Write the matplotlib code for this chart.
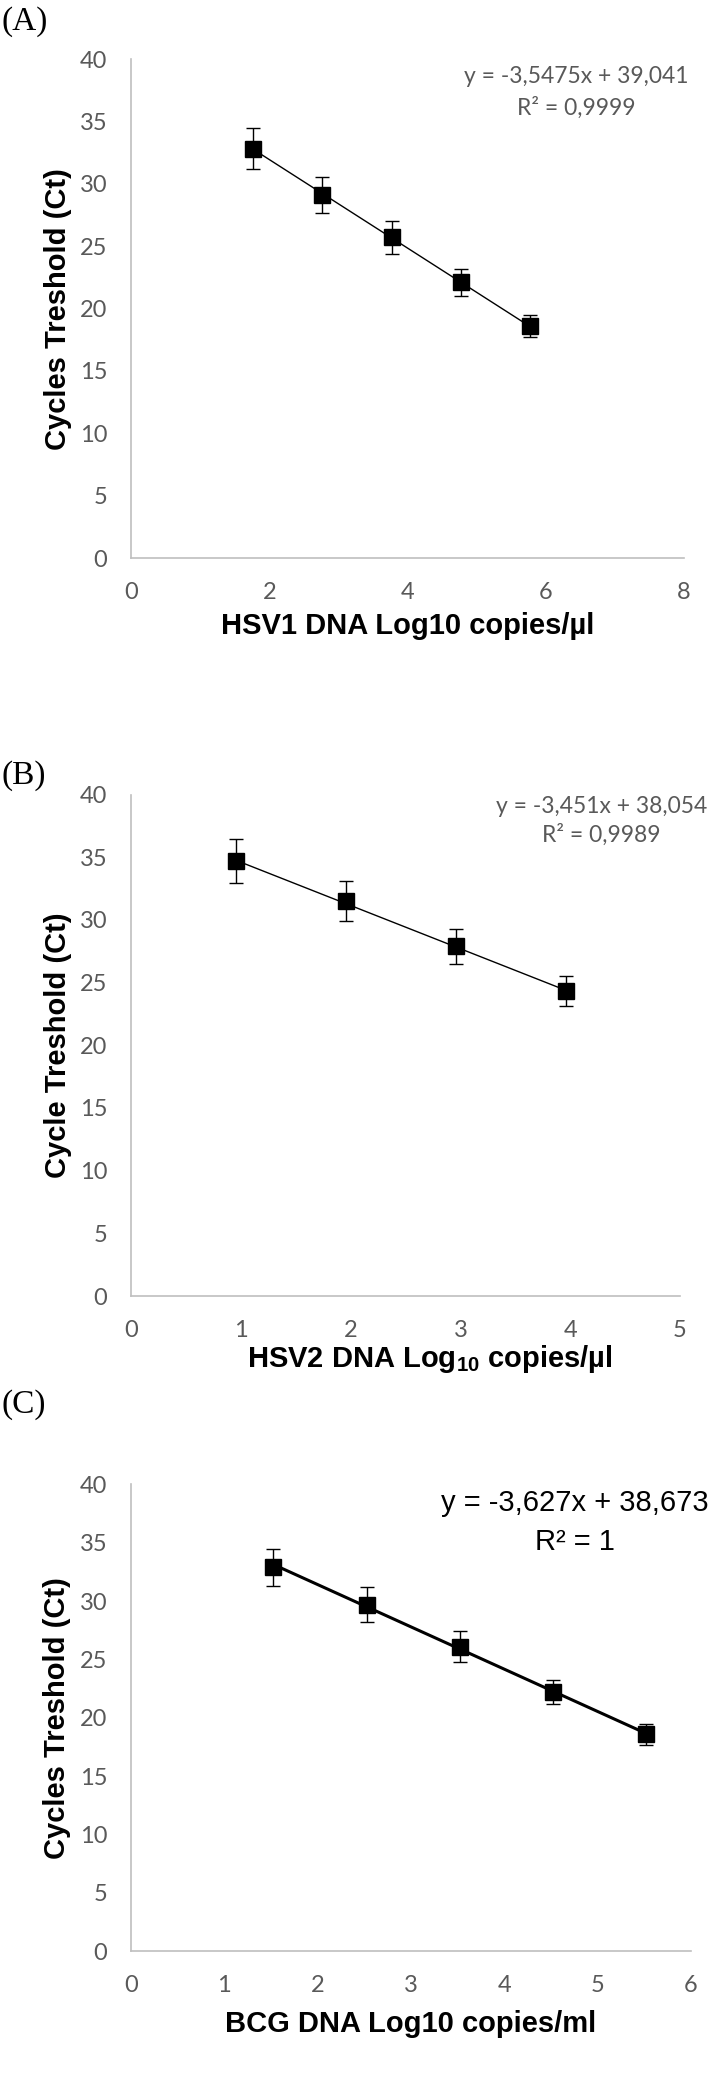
import matplotlib.pyplot as plt
import numpy as np

plt.rcParams["mathtext.fontset"] = "custom"
plt.rcParams["mathtext.rm"] = "Liberation Sans"
plt.rcParams["mathtext.bf"] = "Liberation Sans:bold"

# Panel A - HSV1
hsv1_x = [1.77, 2.77, 3.77, 4.77, 5.77]
hsv1_ct = [32.8, 29.1, 25.7, 22.1, 18.6]
hsv1_err = [1.65, 1.45, 1.3, 1.1, 0.9]
hsv1_fit = (-3.5475, 39.041)

# Panel B - HSV2
hsv2_x = [0.96, 1.96, 2.96, 3.96]
hsv2_ct = [34.7, 31.5, 27.9, 24.3]
hsv2_err = [1.75, 1.6, 1.4, 1.2]
hsv2_fit = (-3.451, 38.054)

# Panel C - BCG
bcg_x = [1.52, 2.53, 3.53, 4.52, 5.52]
bcg_ct = [32.9, 29.7, 26.1, 22.2, 18.6]
bcg_err = [1.6, 1.5, 1.3, 1.05, 0.9]
bcg_fit = (-3.627, 38.673)

tick_font = "Lato"
label_font = "Liberation Sans"
gray_txt = "#595959"
spine_col = "#bfbfbf"

fig = plt.figure(figsize=(7.09, 20.8), dpi=100)


def make_panel(rect, x, y, err, fit, xmax, ylabel, xlabel, xlab_pos, eq_lines, eq_pos, eq_style, fit_lw):
    ax = fig.add_axes(rect)
    # trendline over the data range
    xs = np.array([x[0], x[-1]])
    ax.plot(xs, fit[0] * xs + fit[1], color="black", lw=fit_lw, zorder=2)
    ax.errorbar(x, y, yerr=err, fmt="s", color="black", ms=12, capsize=5,
                elinewidth=1, capthick=1, zorder=3)
    ax.set_xlim(0, xmax)
    ax.set_ylim(0, 40)
    ax.set_xticks(np.arange(0, xmax + 1, 2 if xmax == 8 else 1))
    ax.set_yticks(np.arange(0, 41, 5))
    for s in ["top", "right"]:
        ax.spines[s].set_visible(False)
    for s in ["left", "bottom"]:
        ax.spines[s].set_color(spine_col)
        ax.spines[s].set_linewidth(1.2)
    ax.tick_params(length=0, labelsize=17, labelcolor=gray_txt, pad=17)
    for lab in ax.get_xticklabels() + ax.get_yticklabels():
        lab.set_fontfamily(tick_font)
    ax.set_ylabel(ylabel, fontsize=21, fontweight="bold", family=label_font)
    ax.yaxis.set_label_coords(-0.107, 0.5)
    ax.set_xlabel(xlabel, fontsize=21, fontweight="bold", family=label_font)
    ax.xaxis.set_label_coords(xlab_pos[0], xlab_pos[1])
    for line, yy in zip(eq_lines, eq_pos[1]):
        ax.text(eq_pos[0], yy, line, transform=ax.transAxes, ha="center", va="center", **eq_style)
    return ax


gray_eq = dict(fontsize=16.5, color=gray_txt, family=tick_font)
black_eq = dict(fontsize=21, color="black", family=label_font)

make_panel([0.1848, 0.7317, 0.7799, 0.2399], hsv1_x, hsv1_ct, hsv1_err, hsv1_fit, 8,
           "Cycles Treshold (Ct)", "HSV1 DNA Log10 copies/µl", (0.5, -0.108),
           ["y = -3,5475x + 39,041", "R² = 0,9999"], (0.806, [0.966, 0.902]), gray_eq, 1.0)

make_panel([0.1848, 0.3769, 0.7743, 0.2411], hsv2_x, hsv2_ct, hsv2_err, hsv2_fit, 5,
           "Cycle Treshold (Ct)", r"HSV2 DNA Log$_{\mathbf{10}}$ copies/µl", (0.545, -0.094),
           ["y = -3,451x + 38,054", "R² = 0,9989"], (0.857, [0.977, 0.919]), gray_eq, 1.0)

make_panel([0.1848, 0.0620, 0.7898, 0.2243], bcg_x, bcg_ct, bcg_err, bcg_fit, 6,
           "Cycles Treshold (Ct)", "BCG DNA Log10 copies/ml", (0.5, -0.126),
           ["y = -3,627x + 38,673", "R² = 1"], (0.793, [0.96, 0.877]), black_eq, 2.2)

for lab, yy in [("(A)", 0.9894), ("(B)", 0.627), ("(C)", 0.3245)]:
    fig.text(0.002, yy, lab, fontsize=24, family="Liberation Serif", va="center", ha="left")

fig.savefig("out.png", dpi=100)
